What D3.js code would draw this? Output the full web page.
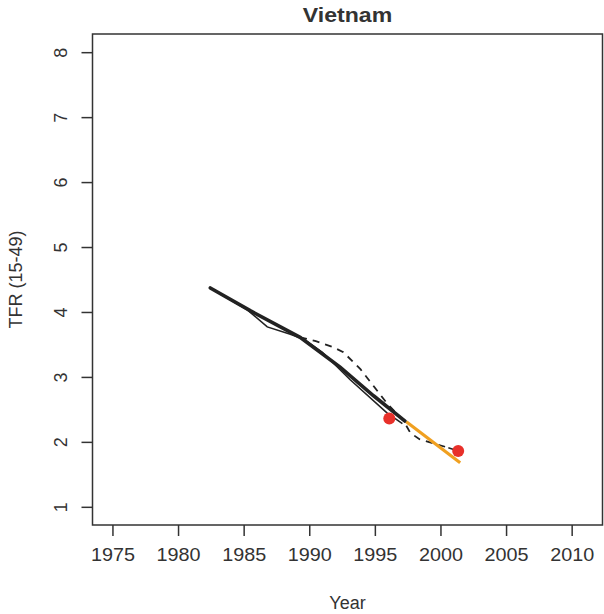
<!DOCTYPE html>
<html><head><meta charset="utf-8">
<script src="https://cdn.jsdelivr.net/npm/d3@7"></script>
<style>body{margin:0;background:#fff}svg{display:block}text{font-family:"Liberation Sans",Arial,sans-serif;fill:#333}</style>
</head><body>
<script>
const title = "Vietnam";
const xTicks = [1975,1980,1985,1990,1995,2000,2005,2010];
const yTicks = [1,2,3,4,5,6,7,8];
// thick black estimate
const thickYears = [1982.46,1985.5,1989.3,1992.35,1994.9,1997.3];
const thickVals  = [4.37,4.02,3.61,3.15,2.71,2.32];
// thin black series
const thinYears = [1982.46,1985.3,1986.8,1988.5,1989.6,1991.0,1993.1,1995.9,1997.1];
const thinVals  = [4.37,4.03,3.77,3.66,3.58,3.38,2.96,2.45,2.28];
// dashed series
const dashYears = [1989.3,1990.5,1991.8,1992.6,1993.9,1994.9,1995.9,1997.2,1997.7,1998.4,2000.6];
const dashVals  = [3.61,3.55,3.46,3.38,3.12,2.86,2.6,2.32,2.14,2.04,1.91];
// short connector to last survey point
const connYears = [2000.6,2001.35];
const connVals  = [1.91,1.86];
// orange projection
const orangeYears = [1997.4,2001.5];
const orangeVals  = [2.31,1.68];
// red survey points
const pointYears = [1996.1,2001.35];
const pointVals  = [2.36,1.86];

const W=604,H=614;
const svg=d3.select("body").append("svg").attr("width",W).attr("height",H);
const L=92.5,R=602.5,T=34,B=525;
const x=d3.scaleLinear().domain([1973.48,2012.35]).range([L,R]);
const y=d3.scaleLinear().domain([0.72,8.28]).range([B,T]);

svg.append("rect").attr("x",L).attr("y",T).attr("width",R-L).attr("height",B-T)
  .attr("fill","none").attr("stroke","#333").attr("stroke-width",1.5);

const xa=svg.append("g").attr("transform",`translate(0,${B})`)
  .call(d3.axisBottom(x).tickValues(xTicks).tickFormat(d3.format("d")).tickSize(11).tickSizeOuter(0));
xa.select(".domain").remove();
xa.selectAll("line").attr("stroke","#333").attr("stroke-width",1.5);
xa.selectAll("text").attr("font-size",18).attr("dy",0).attr("y",0)
  .attr("transform","translate(0,36) scale(1.1,1)").attr("fill","#333");

const ya=svg.append("g").attr("transform",`translate(${L},0)`)
  .call(d3.axisLeft(y).tickValues(yTicks).tickFormat(d3.format("d")).tickSize(11).tickSizeOuter(0));
ya.select(".domain").remove();
ya.selectAll("line").attr("stroke","#333").attr("stroke-width",1.5);
ya.selectAll("text").attr("font-size",18).attr("fill","#333")
  .attr("x",0).attr("dy",0).attr("text-anchor","middle")
  .attr("transform","translate(-30,0) rotate(-90)")
  .attr("y",0).attr("dominant-baseline","middle");

const line=d3.line().x(d=>x(d[0])).y(d=>y(d[1]));
const zip=(a,b)=>a.map((v,i)=>[v,b[i]]);
const g=svg.append("g");
g.append("path").datum(zip(dashYears,dashVals)).attr("d",line).attr("fill","none")
  .attr("stroke","#222").attr("stroke-width",1.8).attr("stroke-dasharray","7,6");
g.append("path").datum(zip(connYears,connVals)).attr("d",line).attr("fill","none")
  .attr("stroke","#222").attr("stroke-width",1.5);
g.append("path").datum(zip(thinYears,thinVals)).attr("d",line).attr("fill","none")
  .attr("stroke","#222").attr("stroke-width",1.6);
g.append("path").datum(zip(thickYears,thickVals)).attr("d",line).attr("fill","none")
  .attr("stroke","#222").attr("stroke-width",3.6).attr("stroke-linecap","round");
g.append("path").datum(zip(orangeYears,orangeVals)).attr("d",line).attr("fill","none")
  .attr("stroke","#f0a020").attr("stroke-width",3.2);
g.selectAll("circle").data(zip(pointYears,pointVals)).join("circle")
  .attr("cx",d=>x(d[0])).attr("cy",d=>y(d[1])).attr("r",6).attr("fill","#e8302a");

svg.append("text").attr("transform",`translate(${(L+R)/2},22) scale(1.1,1)`).attr("text-anchor","middle")
  .attr("font-size",21).attr("font-weight","bold").attr("fill","#222").text(title);
svg.append("text").attr("x",(L+R)/2).attr("y",609).attr("text-anchor","middle")
  .attr("font-size",18).text("Year");
svg.append("text").attr("transform",`translate(22,${(T+B)/2}) rotate(-90)`).attr("text-anchor","middle")
  .attr("font-size",18).text("TFR (15-49)");
</script>
</body></html>
